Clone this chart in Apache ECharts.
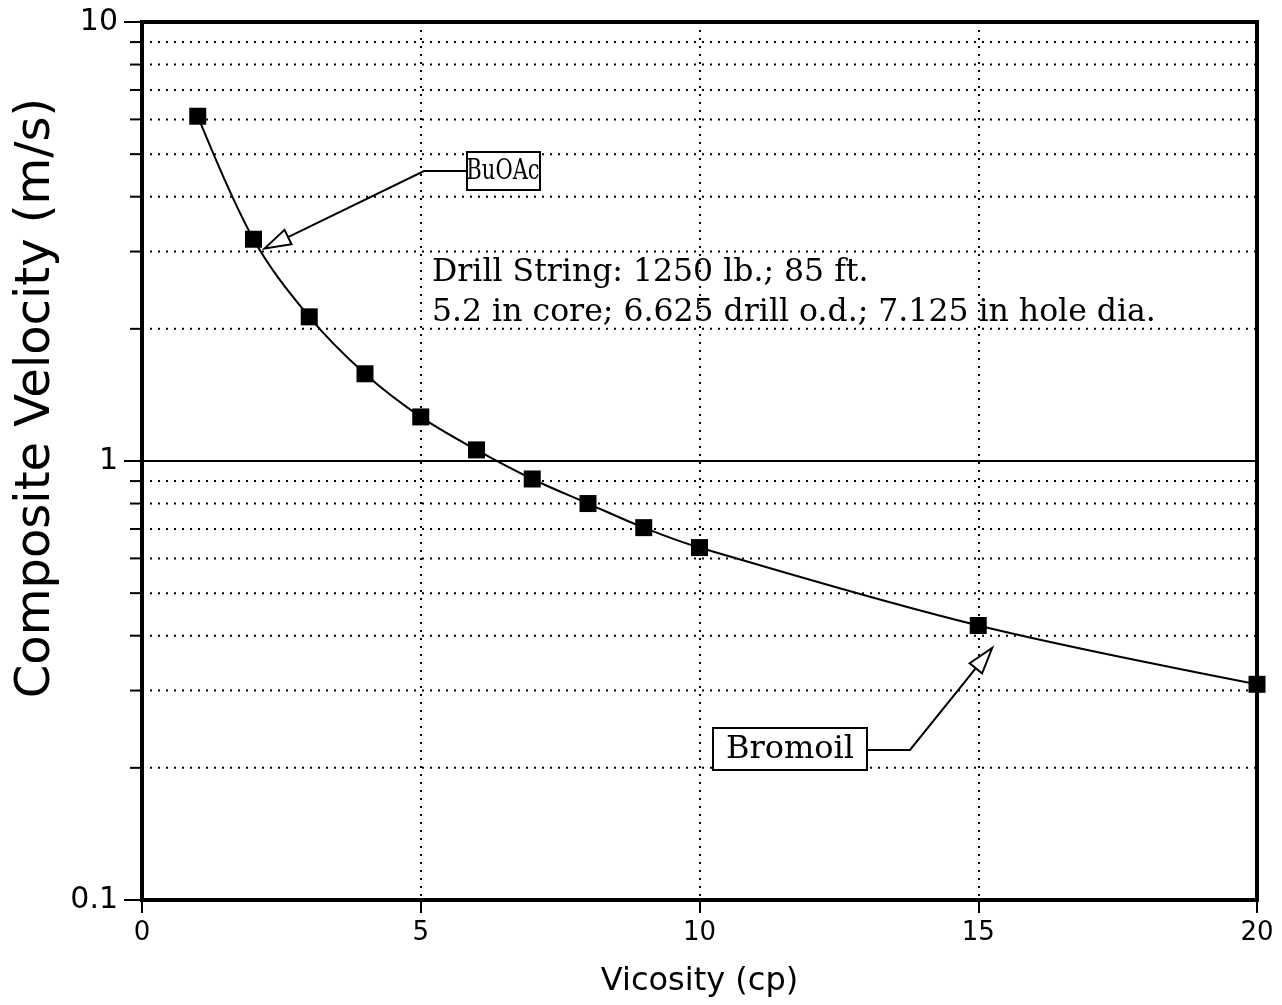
<!DOCTYPE html>
<html>
<head>
<meta charset="utf-8">
<script src="https://cdn.jsdelivr.net/npm/echarts@6/dist/echarts.min.js"></script>
<style>
  html, body { margin: 0; padding: 0; background: #fff; }
  #main { width: 1282px; height: 1005px; }
</style>
</head>
<body>
<div id="main"></div>
<script>
// viscosity (cp) vs composite velocity (m/s)
const viscosity = [1, 2, 3, 4, 5, 6, 7, 8, 9, 10, 15, 20];
const velocity = [6.1, 3.2, 2.13, 1.58, 1.26, 1.06, 0.91, 0.8, 0.705, 0.635, 0.422, 0.31];

// minor gridlines of the log axis (dotted)
const minorValues = [0.2, 0.3, 0.4, 0.5, 0.6, 0.7, 0.8, 0.9, 2, 3, 4, 5, 6, 7, 8, 9];

const infoLines = ['Drill String: 1250 lb.; 85 ft.', '5.2 in core; 6.625 drill o.d.; 7.125 in hole dia.'];

const sansFont = '"DejaVu Sans", sans-serif';
const serifFont = '"DejaVu Serif", serif';

const chartDom = document.getElementById('main');
const myChart = echarts.init(chartDom, null, { renderer: 'canvas' });

const option = {
  backgroundColor: '#fff',
  animation: false,
  grid: {
    left: 142, right: 25, top: 22, bottom: 105,
    show: true, borderColor: '#000', borderWidth: 4
  },
  xAxis: {
    type: 'value', min: 0, max: 20, interval: 5,
    name: 'Vicosity (cp)', nameLocation: 'middle', nameGap: 66,
    nameTextStyle: { fontFamily: sansFont, fontSize: 32, color: '#000' },
    axisLine: { show: true, onZero: false, lineStyle: { color: '#000', width: 4 } },
    axisTick: { show: true, length: 13, lineStyle: { color: '#000', width: 2 } },
    axisLabel: { fontFamily: sansFont, fontSize: 26, color: '#000', margin: 20 },
    splitLine: { show: true, lineStyle: { color: '#000', width: 2, type: [2, 6] } }
  },
  yAxis: {
    type: 'log', logBase: 10, min: 0.1, max: 10,
    axisLine: { show: true, lineStyle: { color: '#000', width: 4 } },
    axisTick: { show: true, length: 18, lineStyle: { color: '#000', width: 2 } },
    axisLabel: {
      fontFamily: sansFont, fontSize: 30, color: '#000', margin: 24,
      formatter: v => (v < 1 ? '0.1' : String(Math.round(v)))
    },
    splitLine: { show: true, lineStyle: { color: '#000', width: 2 } }
  },
  series: [
    {
      type: 'custom',
      silent: true,
      clip: false,
      data: minorValues,
      renderItem: (params, api) => {
        const v = api.value(0);
        const p0 = api.coord([0, v]);
        const p1 = api.coord([20, v]);
        return {
          type: 'group',
          children: [
            { type: 'line', shape: { x1: p0[0], y1: p0[1], x2: p1[0], y2: p1[1] },
              style: { stroke: '#000', lineWidth: 2, lineDash: [2, 6] } },
            { type: 'line', shape: { x1: p0[0] - 12, y1: p0[1], x2: p0[0], y2: p0[1] },
              style: { stroke: '#000', lineWidth: 2 } }
          ]
        };
      },
      encode: { y: 0 },
      z: 1
    },
    {
      type: 'line',
      data: viscosity.map((x, i) => [x, velocity[i]]),
      smooth: 0.35,
      symbol: 'rect',
      symbolSize: 17,
      itemStyle: { color: '#000' },
      lineStyle: { color: '#000', width: 2 },
      z: 5
    }
  ]
};

myChart.setOption(option);

// annotations: boxes with elbow leaders and open arrowheads
function arrowHead(tip, from, len, half) {
  const dx = tip[0] - from[0], dy = tip[1] - from[1];
  const d = Math.sqrt(dx * dx + dy * dy);
  const ux = dx / d, uy = dy / d;
  const bx = tip[0] - ux * len, by = tip[1] - uy * len;
  return [tip, [bx - uy * half, by + ux * half], [bx + uy * half, by - ux * half]];
}

const buTip = myChart.convertToPixel('grid', [2.2, 3.05]);
const buElbow = [424, 171];
const brTip = myChart.convertToPixel('grid', [15.25, 0.375]);
const brElbow = [910, 750];
const buHead = arrowHead(buTip, buElbow, 26, 8);
const brHead = arrowHead(brTip, brElbow, 26, 8);

myChart.setOption({
  graphic: [
    // y axis title, sits above the axis middle as in the original
    { type: 'text', x: 37, y: 398, rotation: Math.PI / 2, z: 11,
      style: { text: 'Composite Velocity (m/s)', font: '48px ' + sansFont, fill: '#000', align: 'center', verticalAlign: 'middle' } },

    { type: 'rect', shape: { x: 467, y: 152, width: 73, height: 38 },
      style: { fill: '#fff', stroke: '#000', lineWidth: 2 }, z: 10 },
    { type: 'text', x: 503, y: 172, scaleX: 0.78, z: 11,
      style: { text: 'BuOAc', font: '27px ' + serifFont, fill: '#000', align: 'center', verticalAlign: 'middle' } },
    { type: 'polyline', shape: { points: [[467, 171], buElbow, [(buHead[1][0] + buHead[2][0]) / 2, (buHead[1][1] + buHead[2][1]) / 2]] },
      style: { stroke: '#000', lineWidth: 2, fill: null }, z: 10 },
    { type: 'polygon', shape: { points: buHead },
      style: { fill: '#fff', stroke: '#000', lineWidth: 2 }, z: 10 },

    { type: 'rect', shape: { x: 713, y: 728, width: 154, height: 42 },
      style: { fill: '#fff', stroke: '#000', lineWidth: 2 }, z: 10 },
    { type: 'text', x: 790, y: 750, z: 11,
      style: { text: 'Bromoil', font: '32px ' + serifFont, fill: '#000', align: 'center', verticalAlign: 'middle' } },
    { type: 'polyline', shape: { points: [[867, 750], brElbow, [(brHead[1][0] + brHead[2][0]) / 2, (brHead[1][1] + brHead[2][1]) / 2]] },
      style: { stroke: '#000', lineWidth: 2, fill: null }, z: 10 },
    { type: 'polygon', shape: { points: brHead },
      style: { fill: '#fff', stroke: '#000', lineWidth: 2 }, z: 10 },

    { type: 'text', x: 432, y: 273, z: 11,
      style: { text: infoLines[0], font: '31.5px ' + serifFont, fill: '#000', verticalAlign: 'middle' } },
    { type: 'text', x: 432, y: 313, z: 11,
      style: { text: infoLines[1], font: '31.5px ' + serifFont, fill: '#000', verticalAlign: 'middle' } }
  ]
});

window.addEventListener('resize', () => {
  myChart.resize();
});
</script>
</body>
</html>
